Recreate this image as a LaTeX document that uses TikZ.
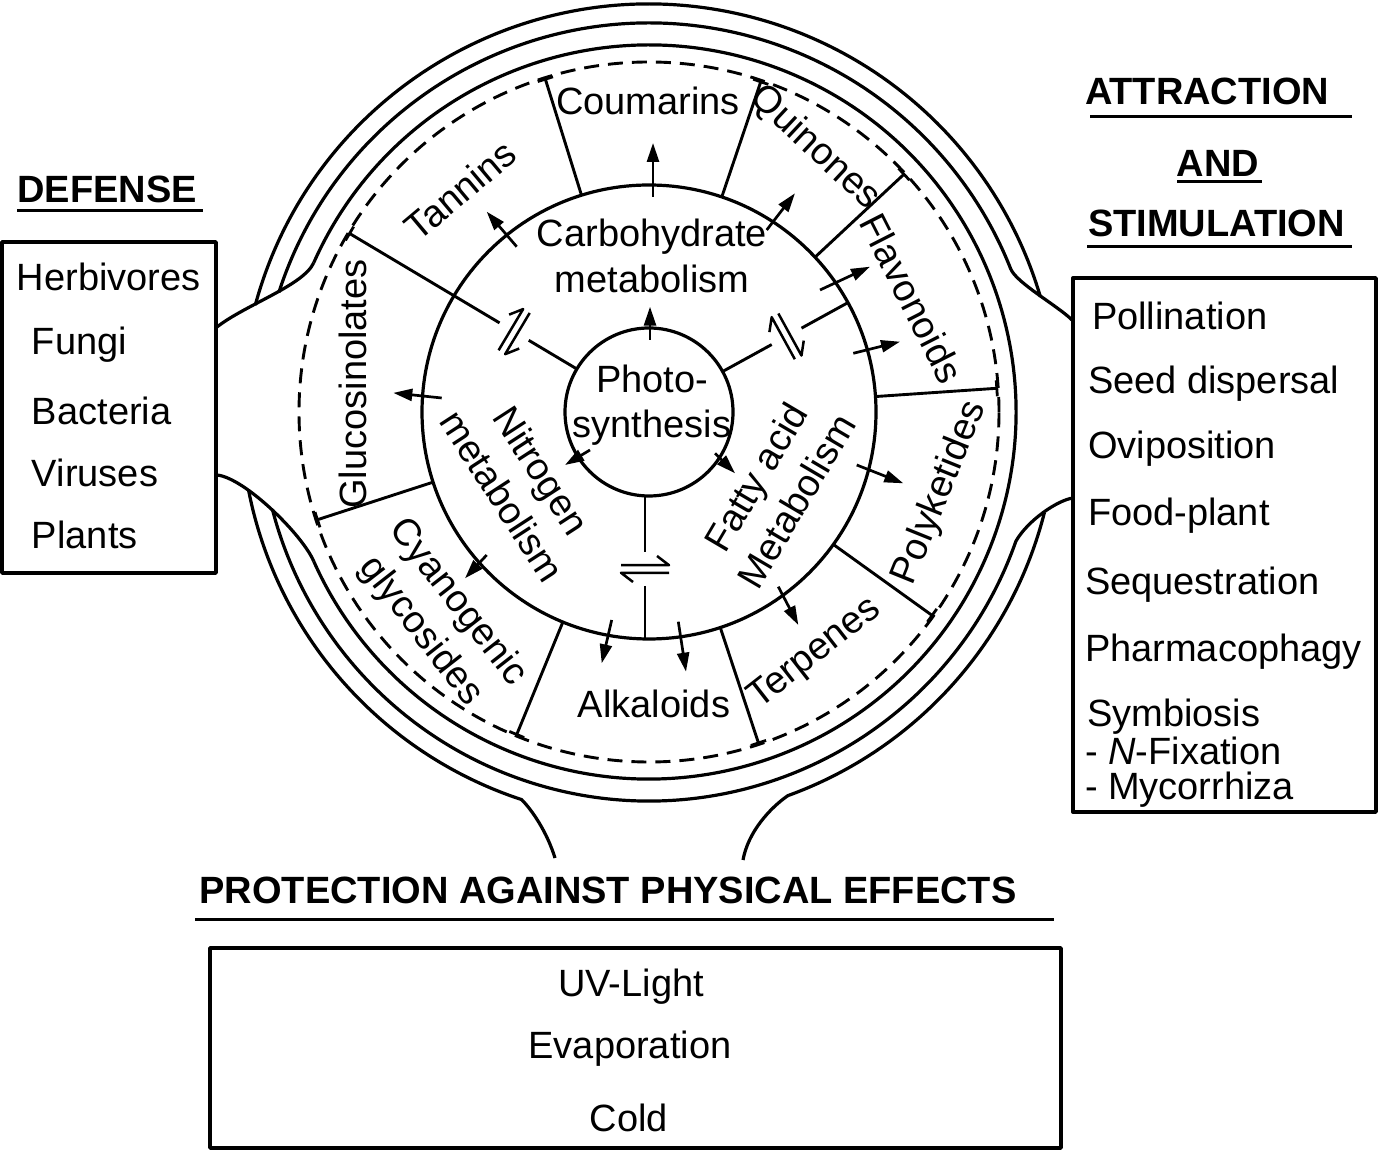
\documentclass[tikz,border=0pt]{standalone}
\usepackage{fontspec}
\setmainfont{Liberation Sans}
\usetikzlibrary{arrows.meta,calc}
\begin{document}
\begin{tikzpicture}[x=0.5pt,y=0.5pt,
  line width=1.5pt, line join=round,
  every node/.style={inner sep=0pt, outer sep=0pt},
  lbl/.style={font=\fontsize{19}{23.5}\selectfont},
  hdr/.style={font=\fontsize{19}{23.5}\selectfont\bfseries},
  rlbl/.style={font=\fontsize{19}{23.5}\selectfont, align=center},
  arr/.style={-{Triangle[length=9.5pt,width=6pt]}, line width=1.35pt},
  divider/.style={-{Bar[width=8pt,line width=1.4pt]}, line width=1.45pt},
  boxln/.style={line width=1.7pt},
  ring/.style={line width=1.6pt},
  dashring/.style={line width=1.45pt, dash pattern=on 7.5pt off 4.5pt},
  eqsym/.pic={
    \draw[line width=1.25pt] (-24,3.8) -- (24,3.8) -- (12,13);
    \draw[line width=1.25pt] (24,-3.8) -- (-24,-3.8) -- (-12,-13);
  }
]
\useasboundingbox (0,0) rectangle (1379,1150);

% ---------------- boxes ----------------
\draw[boxln] (2,577) rectangle (216,908);
\draw[boxln] (1073,338) rectangle (1376,872);
\draw[boxln] (210,2) rectangle (1061,202);

% ---------------- headers ----------------
\node[hdr, anchor=base] (defense) at (107,947) {DEFENSE};
\draw[line width=1.5pt] (17,939) -- (203,939);
\node[hdr, anchor=base west] (attr) at (1085,1045) {ATTRACTION};
\draw[line width=1.5pt] (1090,1033) -- (1352,1033);
\node[hdr, anchor=base] (and) at (1218,973) {AND};
\draw[line width=1.5pt] (1177,968) -- (1262,968);
\node[hdr, anchor=base west] (stim) at (1088,913) {STIMULATION};
\draw[line width=1.5pt] (1087,903) -- (1352,903);
\node[hdr, anchor=base] (prot) at (608,246) {PROTECTION AGAINST PHYSICAL EFFECTS};
\draw[line width=1.5pt] (195,230) -- (1054,230);

% ---------------- left box items ----------------
\node[lbl, anchor=base west] (herb) at (17,859) {Herbivores};
\node[lbl, anchor=base west] (fungi) at (32,795) {Fungi};
\node[lbl, anchor=base west] (bact) at (32,725) {Bacteria};
\node[lbl, anchor=base west] (vir) at (32,663) {Viruses};
\node[lbl, anchor=base west] (plants) at (32,601) {Plants};

% ---------------- right box items ----------------
\node[lbl, anchor=base west] (poll) at (1092,820) {Pollination};
\node[lbl, anchor=base west] (seed) at (1088,756) {Seed dispersal};
\node[lbl, anchor=base west] (ovi) at (1088,691) {Oviposition};
\node[lbl, anchor=base west] (food) at (1088,624) {Food-plant};
\node[lbl, anchor=base west] (seq) at (1085,555) {Sequestration};
\node[lbl, anchor=base west] (pharm) at (1085,488) {Pharmacophagy};
\node[lbl, anchor=base west] (symb) at (1087,423) {Symbiosis};
\node[lbl, anchor=base west] (nfix) at (1085,385) {- \textit{N}-Fixation};
\node[lbl, anchor=base west] (myco) at (1085,350) {- Mycorrhiza};

% ---------------- bottom box items ----------------
\node[lbl, anchor=base] (uv) at (631,154) {UV-Light};
\node[lbl, anchor=base] (evap) at (630,92) {Evaporation};
\node[lbl, anchor=base] (cold) at (629,19) {Cold};

% ---------------- ring ----------------
\begin{scope}[shift={(649,738)}]
  \coordinate (O) at (0,0);
  % circles
  \draw[ring] (O) circle[radius=84];
  \draw[ring] (O) circle[radius=227];
  \draw[dashring] (O) circle[radius=350];
  % circle C
  \draw[ring] (156:367) arc[start angle=156, end angle=-156, radius=367];
  % circle B (top) bending to right box
  \draw[ring] (162.1:389) arc[start angle=162.1, end angle=21.6, radius=389]
     .. controls (367.1,129.2) and (409,106) .. (423,92);
  % circle A top
  \draw[ring] (164.8:408) arc[start angle=164.8, end angle=16.4, radius=408];
  % left box connectors
  \draw[ring] (-432,85) .. controls (-404,107) and (-345.5,126.5) .. (156:367);
  \draw[ring] (-432,-63) .. controls (-404,-66) and (-346.5,-123) .. (204:367);
  % right lower connector + circle B bottom
  \draw[ring] (424,-86) .. controls (409,-88) and (379,-108) .. (-19.4:389)
     arc[start angle=-19.4, end angle=-165.5, radius=389];
  % circle A lower parts bending to bottom
  \draw[ring] (191:408) arc[start angle=191, end angle=251.8, radius=408]
     .. controls (-117,-398) and (-102,-420) .. (-94,-446);
  \draw[ring] (-14.3:408) arc[start angle=-14.3, end angle=-70.1, radius=408]
     .. controls (121,-396) and (99,-420) .. (94,-448);

  % sector dividers
  \foreach \a in {107.3,71.3,43,3.9,-35.7,-71.7,-112.3,198}
    \draw[divider] (\a:227) -- (\a:350);
  % dividers from photosynthesis
  \draw[line width=1.45pt] (149.2:84) -- (149.2:140);
  \draw[divider] (149.2:174) -- (149.2:350);
  \draw[line width=1.45pt] (28.8:84) -- (28.8:140);
  \draw[line width=1.45pt] (28.8:174) -- (28.8:227);
  \draw[line width=1.45pt] (-4,-84) -- (-4,-140);
  \draw[line width=1.45pt] (-4,-174) -- (-4,-227);
  \pic[rotate=59.2] at (149.2:157) {eqsym};
  \pic[rotate=-61.2] at (28.8:157) {eqsym};
  \pic at (-4,-157) {eqsym};

  % arrows
  \draw[arr] (4,215) -- (4,269);
  \draw[arr] (-132.3,165.3) -- (-162.3,200.3);
  \draw[arr] (117.7,182) -- (146,218.7);
  \draw[arr] (1,72) -- (1,105.3);
  \draw[arr] (171,122) -- (221,145.3);
  \draw[arr] (204.3,58.7) -- (251,70.3);
  \draw[arr] (207.7,-53) -- (254.3,-71.3);
  \draw[arr] (129.3,-174.7) -- (149.3,-213);
  \draw[arr] (-37.3,-208) -- (-47.3,-251.3);
  \draw[arr] (29.3,-209.7) -- (37,-259.7);
  \draw[arr] (-162.3,-143) -- (-184,-166.3);
  \draw[arr] (-207.3,14) -- (-255.7,19.1);
  \draw[arr] (-59,-38) -- (-84,-53);
  \draw[arr] (66,-41.3) -- (86,-61.3);

  % ring texts
  \node[lbl, anchor=base] (coum) at (-1,297) {Coumarins};
  \node[lbl, anchor=base] (carb1) at (3,165) {Carbohydrate};
  \node[lbl, anchor=base] (carb2) at (3,119) {metabolism};
  \node[lbl, anchor=base] (photo1) at (3,19) {Photo-};
  \node[lbl, anchor=base] (photo2) at (3,-26) {synthesis};
  \node[lbl, anchor=base] (alk) at (5,-306) {Alkaloids};
  \node[lbl, rotate=40] (tann) at (-189,222) {Tannins};
  \node[lbl, rotate=-43] (quin) at (166,264) {Quinones};
  \node[lbl, rotate=-63] (flav) at (263,114) {Flavonoids};
  \node[lbl, rotate=68] (poly) at (291,-81) {Polyketides};
  \node[lbl, rotate=38] (terp) at (166,-242) {Terpenes};
  \node[rlbl, rotate=-52] (cyan) at (-210,-205) {Cyanogenic\\glycosides};
  \node[lbl, rotate=90] (gluc) at (-296,28) {Glucosinolates};
  \node[rlbl, rotate=-57] (nitro) at (-127,-71) {Nitrogen\\metabolism};
  \node[rlbl, rotate=59.5] (fatty) at (127,-77) {Fatty acid\\Metabolism};
\end{scope}
\end{tikzpicture}
\end{document}
